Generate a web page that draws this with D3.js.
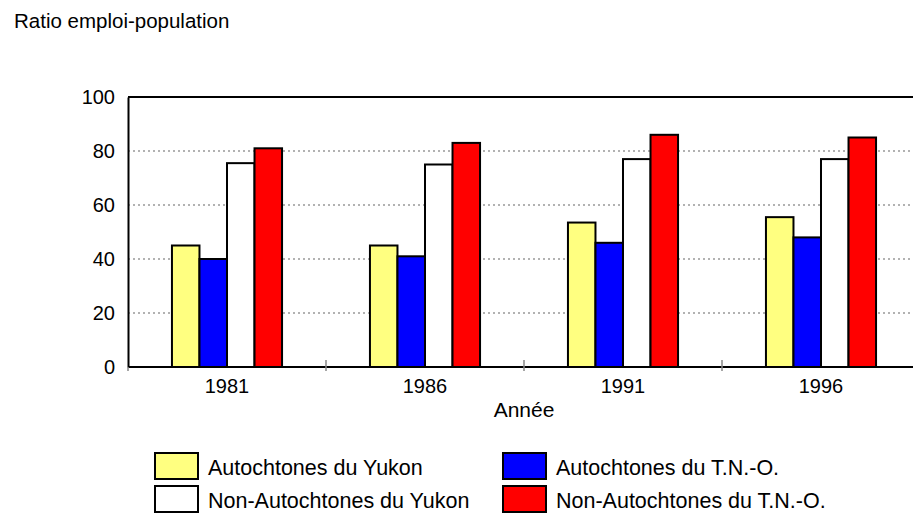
<!DOCTYPE html>
<html>
<head>
<meta charset="utf-8">
<script src="https://cdn.jsdelivr.net/npm/d3@7"></script>
<style>
  body { margin: 0; background: #fff; }
  svg { display: block; font-family: "Liberation Sans", Arial, sans-serif; }
</style>
</head>
<body>
<svg id="chart" width="913" height="515"></svg>
<script>
const years = ["1981", "1986", "1991", "1996"];
const seriesNames = ["Autochtones du Yukon", "Autochtones du T.N.-O.", "Non-Autochtones du Yukon", "Non-Autochtones du T.N.-O."];
const seriesColors = ["#ffff80", "#0000ff", "#ffffff", "#ff0000"];
const yukonNative = [45, 45, 53.5, 55.5];
const ntNative = [40, 41, 46, 48];
const yukonNonNative = [75.5, 75, 77, 77];
const ntNonNative = [81, 83, 86, 85];
const yTicks = [0, 20, 40, 60, 80, 100];

const seriesValues = [yukonNative, ntNative, yukonNonNative, ntNonNative];

const svg = d3.select("#chart");
const plotLeft = 128, plotRight = 920, plotTop = 97, plotBottom = 367;
const fontFamily = "Liberation Sans, Arial, sans-serif";

const x = d3.scaleBand().domain(years).range([plotLeft, plotRight]).paddingInner(0).paddingOuter(0);
const groupWidth = x.bandwidth() * 0.556;
const xs = d3.scaleBand().domain(d3.range(seriesNames.length)).range([0, groupWidth]);
const y = d3.scaleLinear().domain([0, 100]).range([plotBottom, plotTop]);

// horizontal dotted grid
svg.append("g").selectAll("line")
  .data(yTicks.filter(t => t > 0 && t < 100))
  .join("line")
  .attr("x1", plotLeft).attr("x2", plotRight)
  .attr("y1", d => y(d)).attr("y2", d => y(d))
  .attr("stroke", "#999").attr("stroke-width", 1.5)
  .attr("stroke-dasharray", "2,3");

// top border
svg.append("line")
  .attr("x1", plotLeft).attr("x2", plotRight)
  .attr("y1", y(100)).attr("y2", y(100))
  .attr("stroke", "#000").attr("stroke-width", 2);

// y axis
const yAxis = d3.axisLeft(y).tickValues(yTicks).tickSize(0).tickPadding(13);
const gy = svg.append("g").attr("transform", `translate(${plotLeft},0)`).call(yAxis);
gy.select(".domain").attr("stroke", "#000").attr("stroke-width", 2);
gy.selectAll("text").attr("font-size", 20).attr("fill", "#000")
  .attr("font-family", fontFamily);

// bars
const groups = svg.append("g").selectAll("g")
  .data(years)
  .join("g")
  .attr("transform", d => `translate(${x(d) + (x.bandwidth() - groupWidth) / 2},0)`);

groups.selectAll("rect")
  .data((d, i) => seriesValues.map((vals, s) => ({ s, v: vals[i] })))
  .join("rect")
  .attr("x", d => xs(d.s))
  .attr("width", xs.bandwidth())
  .attr("y", d => y(d.v))
  .attr("height", d => y(0) - y(d.v))
  .attr("fill", d => seriesColors[d.s])
  .attr("stroke", "#000")
  .attr("stroke-width", 2);

// x axis
const xAxis = d3.axisBottom(x).tickSize(0).tickPadding(12);
const gx = svg.append("g").attr("transform", `translate(0,${plotBottom})`).call(xAxis);
gx.select(".domain").remove();
gx.selectAll("text").attr("font-size", 20).attr("fill", "#000")
  .attr("font-family", fontFamily);
svg.append("line")
  .attr("x1", plotLeft).attr("x2", plotRight)
  .attr("y1", plotBottom).attr("y2", plotBottom)
  .attr("stroke", "#000").attr("stroke-width", 2);

// category separators
svg.append("g").selectAll("line")
  .data(years.map(d => x(d)))
  .join("line")
  .attr("x1", d => d).attr("x2", d => d)
  .attr("y1", (d, i) => i === 0 ? plotBottom : plotBottom - 7)
  .attr("y2", plotBottom + 4)
  .attr("stroke", "#888").attr("stroke-width", 1.5);

// titles
svg.append("text")
  .attr("x", 14).attr("y", 28)
  .attr("font-size", 20.5).attr("fill", "#000")
  .attr("font-family", fontFamily)
  .text("Ratio emploi-population");

svg.append("text")
  .attr("x", (plotLeft + plotRight) / 2).attr("y", 417)
  .attr("text-anchor", "middle")
  .attr("font-size", 21).attr("fill", "#000")
  .attr("font-family", fontFamily)
  .text("Année");

// legend
const legendItems = [
  { name: seriesNames[0], color: seriesColors[0], col: 0, row: 0 },
  { name: seriesNames[1], color: seriesColors[1], col: 1, row: 0 },
  { name: seriesNames[2], color: seriesColors[2], col: 0, row: 1 },
  { name: seriesNames[3], color: seriesColors[3], col: 1, row: 1 }
];
const legend = svg.append("g").selectAll("g")
  .data(legendItems)
  .join("g")
  .attr("transform", d => `translate(${155 + d.col * 348},${453 + d.row * 33})`);
legend.append("rect")
  .attr("width", 43).attr("height", 26)
  .attr("fill", d => d.color)
  .attr("stroke", "#000").attr("stroke-width", 2);
legend.append("text")
  .attr("x", 53).attr("y", 22)
  .attr("font-size", 21.5).attr("fill", "#000")
  .attr("font-family", fontFamily)
  .text(d => d.name);
</script>
</body>
</html>
